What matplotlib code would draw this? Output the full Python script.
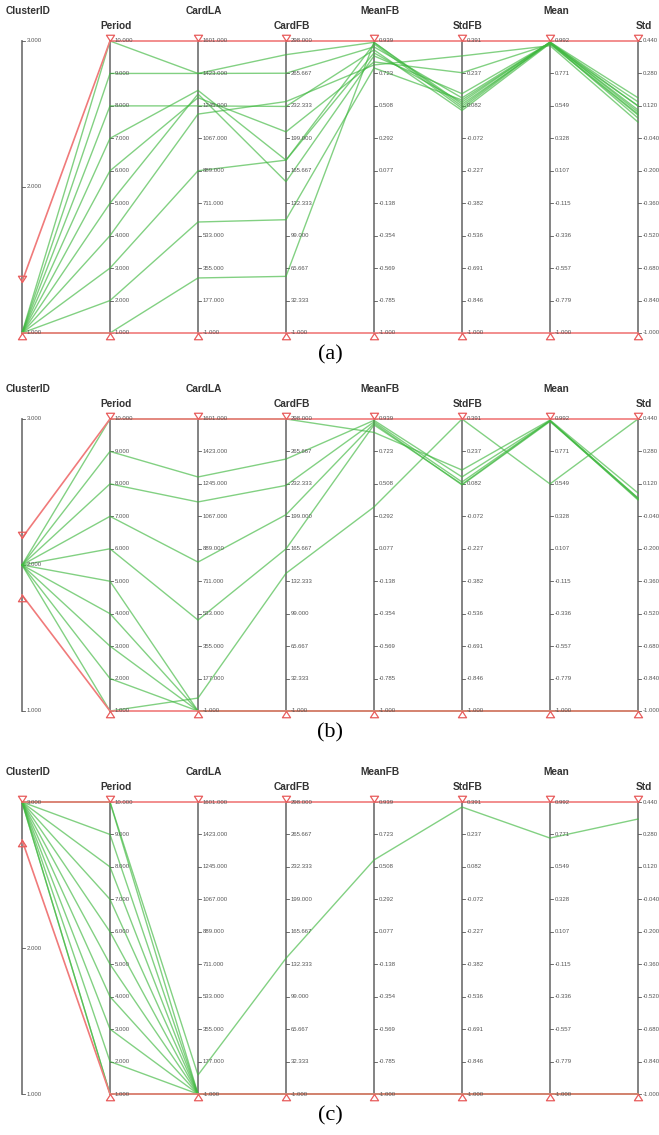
import numpy as np
import matplotlib
matplotlib.use("Agg")
import matplotlib.pyplot as plt
from matplotlib.path import Path

plt.rcParams['font.family'] = ['Liberation Sans', 'DejaVu Sans']

# ---- parallel-coordinate axes ----
axis_names = ["ClusterID", "Period", "CardLA", "CardFB", "MeanFB", "StdFB", "Mean", "Std"]
axis_min = [1.0, 1.0, -1.0, -1.0, -1.0, -1.0, -1.0, -1.0]
axis_max = [3.0, 10.0, 1601.0, 298.0, 0.939, 0.391, 0.992, 0.440]
tick_labels = [
    ["1.000", "2.000", "3.000"],
    ["1.000", "2.000", "3.000", "4.000", "5.000", "6.000", "7.000", "8.000", "9.000", "10.000"],
    ["-1.000", "177.000", "355.000", "533.000", "711.000", "889.000", "1067.000", "1245.000", "1423.000", "1601.000"],
    ["-1.000", "32.333", "65.667", "99.000", "132.333", "165.667", "199.000", "232.333", "265.667", "298.000"],
    ["-1.000", "-0.785", "-0.569", "-0.354", "-0.138", "0.077", "0.292", "0.508", "0.723", "0.939"],
    ["-1.000", "-0.846", "-0.691", "-0.536", "-0.382", "-0.227", "-0.072", "0.082", "0.237", "0.391"],
    ["-1.000", "-0.779", "-0.557", "-0.336", "-0.115", "0.107", "0.328", "0.549", "0.771", "0.992"],
    ["-1.000", "-0.840", "-0.680", "-0.520", "-0.360", "-0.200", "-0.040", "0.120", "0.280", "0.440"],
]

# ---- cluster 1 ----
a_cluster = [1, 1, 1, 1, 1, 1, 1, 1, 1, 1]
a_period = [10, 9, 8, 7, 6, 5, 4, 3, 2, 1]
a_cardla = [1423, 1423, 1245, 1330, 1290, 1310, 1200, 889, 608, 301]
a_cardfb = [284, 265, 231, 176, 205, 154, 236, 176, 115, 57]
a_meanfb = [0.93, 0.90, 0.88, 0.86, 0.80, 0.84, 0.78, 0.92, 0.76, 0.93]
a_stdfb = [0.08, 0.12, 0.06, 0.10, 0.24, 0.14, 0.32, 0.07, 0.11, 0.09]
a_mean = [0.985, 0.98, 0.975, 0.985, 0.97, 0.98, 0.96, 0.985, 0.98, 0.975]
a_std = [0.16, 0.14, 0.12, 0.09, 0.075, 0.06, 0.04, 0.12, 0.10, 0.08]
a_brush = (1.0, 1.35)

# ---- cluster 2 ----
b_cluster = [2, 2, 2, 2, 2, 2, 2, 2, 2, 2]
b_period = [10, 9, 8, 7, 6, 5, 4, 3, 2, 1]
b_cardla = [1601, 1283, 1146, 816, 498, -1, -1, -1, -1, 70]
b_cardfb = [298, 257, 230, 200, 165, -1, -1, -1, -1, 140]
b_meanfb = [0.85, 0.93, 0.92, 0.91, 0.90, -1, -1, -1, -1, 0.355]
b_stdfb = [0.148, 0.115, 0.091, 0.077, 0.08, -1, -1, -1, -1, 0.391]
b_mean = [0.985, 0.98, 0.98, 0.975, 0.98, -1, -1, -1, -1, 0.549]
b_std = [0.075, 0.05, 0.041, 0.045, 0.05, -1, -1, -1, -1, 0.44]
b_brush = (1.795, 2.185)

# ---- cluster 3 ----
c_cluster = [3, 3, 3, 3, 3, 3, 3, 3, 3, 3, 3, 3]
c_period = [10, 10, 9, 8, 7, 6, 5, 4, 3, 2, 1, 1]
c_cardla = [103, -1, -1, -1, -1, -1, -1, -1, -1, -1, -1, -1]
c_cardfb = [138, -1, -1, -1, -1, -1, -1, -1, -1, -1, -1, -1]
c_meanfb = [0.554, -1, -1, -1, -1, -1, -1, -1, -1, -1, -1, -1]
c_stdfb = [0.367, -1, -1, -1, -1, -1, -1, -1, -1, -1, -1, -1]
c_mean = [0.746, -1, -1, -1, -1, -1, -1, -1, -1, -1, -1, -1]
c_std = [0.356, -1, -1, -1, -1, -1, -1, -1, -1, -1, -1, -1]
c_brush = (2.74, 3.0)

panels = [
    ("(a)", 41, 333, [a_cluster, a_period, a_cardla, a_cardfb, a_meanfb, a_stdfb, a_mean, a_std], a_brush),
    ("(b)", 419, 711, [b_cluster, b_period, b_cardla, b_cardfb, b_meanfb, b_stdfb, b_mean, b_std], b_brush),
    ("(c)", 802, 1094, [c_cluster, c_period, c_cardla, c_cardfb, c_meanfb, c_stdfb, c_mean, c_std], c_brush),
]

W, H = 659, 1135
X0, X1 = 22, 638
fig = plt.figure(figsize=(W / 100, H / 100), dpi=100)
fig.patch.set_facecolor("white")

# handle markers with the tip on the anchor point
down_tri = Path([(-0.65, 1.0), (0.65, 1.0), (0.0, 0.0), (-0.65, 1.0)],
                [Path.MOVETO, Path.LINETO, Path.LINETO, Path.CLOSEPOLY])
up_tri = Path([(-0.65, -1.0), (0.65, -1.0), (0.0, 0.0), (-0.65, -1.0)],
              [Path.MOVETO, Path.LINETO, Path.LINETO, Path.CLOSEPOLY])

GREEN = (0.25, 0.72, 0.25)
RED = "#f07a7a"
AXC = "#7a7a7a"


def norm(v, i):
    return (np.asarray(v, dtype=float) - axis_min[i]) / (axis_max[i] - axis_min[i])


for caption, top, bot, cols, brush in panels:
    hpx = bot - top
    ax = fig.add_axes([X0 / W, 1 - bot / H, (X1 - X0) / W, hpx / H])
    ax.set_xlim(0, 7)
    ax.set_ylim(0, 1)
    ax.axis("off")
    px_x = 7 / (X1 - X0)
    px_y = 1 / hpx
    n_axes = len(axis_names)
    xs = np.arange(n_axes)

    # axis lines, ticks and labels
    for i in range(n_axes):
        ax.plot([i, i], [0, 1], color=AXC, lw=1.3, zorder=1, clip_on=False)
        labs = tick_labels[i]
        for k, lab in enumerate(labs):
            yk = k / (len(labs) - 1)
            ax.plot([i, i + 2.5 * px_x], [yk, yk], color="#555555", lw=0.6, zorder=1, clip_on=False)
            ax.text(i + 5 * px_x, yk, lab, fontsize=4.3, color="#555555",
                    va="center", ha="left", zorder=4, clip_on=False)
        dy = 30 if i % 2 == 0 else 15
        ax.text(i + 6 * px_x, 1 + dy * px_y, axis_names[i], fontsize=7.3,
                fontweight="bold", color="#333333", ha="center", va="center",
                clip_on=False)

    # data polylines
    data = np.vstack([norm(cols[i], i) for i in range(n_axes)])
    for r in range(data.shape[1]):
        ax.plot(xs, data[:, r], color=GREEN, lw=1.0, alpha=0.65, zorder=2,
                solid_joinstyle="miter", clip_on=False)

    # brush boundaries
    lo = np.zeros(n_axes)
    hi = np.ones(n_axes)
    lo[0] = norm(brush[0], 0)
    hi[0] = norm(brush[1], 0)
    ax.plot(xs, hi, color=RED, lw=1.2, zorder=3, clip_on=False)
    ax.plot(xs, lo, color=RED, lw=1.2, zorder=3, clip_on=False)
    ax.plot(xs, hi, linestyle="none", marker=down_tri, markersize=9,
            markerfacecolor="none", markeredgecolor="#e85c5c", markeredgewidth=0.9,
            zorder=5, clip_on=False)
    ax.plot(xs, lo, linestyle="none", marker=up_tri, markersize=9,
            markerfacecolor="none", markeredgecolor="#e85c5c", markeredgewidth=0.9,
            zorder=5, clip_on=False)

    fig.text(330 / W, 1 - (bot + 22) / H, caption, fontsize=16,
             family=["Liberation Serif", "DejaVu Serif"], ha="center", va="center")

fig.savefig("out.png", dpi=100, facecolor="white")
